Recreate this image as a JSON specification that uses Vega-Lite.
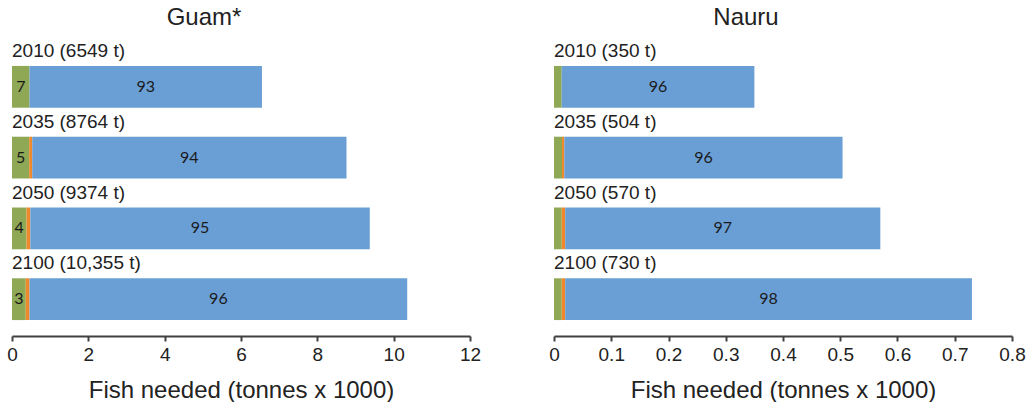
{
  "$schema": "https://vega.github.io/schema/vega-lite/v6.json",
  "background": "white",
  "padding": {"left": 6, "top": 5, "right": 0, "bottom": 0},
  "spacing": 67,
  "datasets": {
    "guam": [
      {"year": "2010", "segment": "Coastal fisheries", "value": 0.46, "label": "7"},
      {"year": "2010", "segment": "Freshwater fisheries", "value": 0.0, "label": ""},
      {"year": "2010", "segment": "Tuna & other", "value": 6.089, "label": "93"},
      {"year": "2035", "segment": "Coastal fisheries", "value": 0.45, "label": "5"},
      {"year": "2035", "segment": "Freshwater fisheries", "value": 0.08, "label": ""},
      {"year": "2035", "segment": "Tuna & other", "value": 8.234, "label": "94"},
      {"year": "2050", "segment": "Coastal fisheries", "value": 0.38, "label": "4"},
      {"year": "2050", "segment": "Freshwater fisheries", "value": 0.1, "label": ""},
      {"year": "2050", "segment": "Tuna & other", "value": 8.894, "label": "95"},
      {"year": "2100", "segment": "Coastal fisheries", "value": 0.36, "label": "3"},
      {"year": "2100", "segment": "Freshwater fisheries", "value": 0.1, "label": ""},
      {"year": "2100", "segment": "Tuna & other", "value": 9.895, "label": "96"}
    ],
    "guamYears": [
      {"year": "2010", "caption": "2010 (6549 t)"},
      {"year": "2035", "caption": "2035 (8764 t)"},
      {"year": "2050", "caption": "2050 (9374 t)"},
      {"year": "2100", "caption": "2100 (10,355 t)"}
    ],
    "nauru": [
      {"year": "2010", "segment": "Coastal fisheries", "value": 0.0135, "label": ""},
      {"year": "2010", "segment": "Freshwater fisheries", "value": 0.0, "label": ""},
      {"year": "2010", "segment": "Tuna & other", "value": 0.3365, "label": "96"},
      {"year": "2035", "segment": "Coastal fisheries", "value": 0.014, "label": ""},
      {"year": "2035", "segment": "Freshwater fisheries", "value": 0.004, "label": ""},
      {"year": "2035", "segment": "Tuna & other", "value": 0.486, "label": "96"},
      {"year": "2050", "segment": "Coastal fisheries", "value": 0.0135, "label": ""},
      {"year": "2050", "segment": "Freshwater fisheries", "value": 0.006, "label": ""},
      {"year": "2050", "segment": "Tuna & other", "value": 0.5505, "label": "97"},
      {"year": "2100", "segment": "Coastal fisheries", "value": 0.0135, "label": ""},
      {"year": "2100", "segment": "Freshwater fisheries", "value": 0.006, "label": ""},
      {"year": "2100", "segment": "Tuna & other", "value": 0.7105, "label": "98"}
    ],
    "nauruYears": [
      {"year": "2010", "caption": "2010 (350 t)"},
      {"year": "2035", "caption": "2035 (504 t)"},
      {"year": "2050", "caption": "2050 (570 t)"},
      {"year": "2100", "caption": "2100 (730 t)"}
    ]
  },
  "hconcat": [
    {
      "title": {"text": "Guam*", "dx": -37},
      "width": 458,
      "height": 286,
      "layer": [
        {
          "data": {"name": "guam"},
          "transform": [{"stack": "value", "groupby": ["year"], "as": ["v0", "v1"], "sort": [{"field": "segment", "order": "ascending"}]}],
          "mark": {"type": "bar"},
          "encoding": {
            "y": {"field": "year", "type": "nominal", "sort": ["2010", "2035", "2050", "2100"], "axis": null,
                  "scale": {"paddingInner": 0.41, "paddingOuter": 0.225}},
            "x": {"field": "v0", "type": "quantitative", "scale": {"domain": [0, 12], "nice": false},
                  "axis": {"values": [0, 2, 4, 6, 8, 10, 12], "title": "Fish needed (tonnes x 1000)", "format": "~g"}},
            "x2": {"field": "v1"},
            "color": {"field": "segment", "type": "nominal", "legend": null,
                      "scale": {"domain": ["Coastal fisheries", "Freshwater fisheries", "Tuna & other"], "range": ["#8ea856", "#ee8a2c", "#6a9fd6"]}}
          }
        },
        {
          "data": {"name": "guam"},
          "transform": [
            {"stack": "value", "groupby": ["year"], "as": ["v0", "v1"], "sort": [{"field": "segment", "order": "ascending"}]},
            {"fold": ["v0", "v1"], "as": ["edge", "pos"]},
            {"aggregate": [{"op": "mean", "field": "pos", "as": "mid"}], "groupby": ["year", "segment", "label"]}
          ],
          "mark": {"type": "text", "font": "Lato", "fontSize": 16, "color": "#1a1a1a"},
          "encoding": {
            "y": {"field": "year", "type": "nominal", "sort": ["2010", "2035", "2050", "2100"]},
            "x": {"field": "mid", "type": "quantitative"},
            "text": {"field": "label"}
          }
        },
        {
          "data": {"name": "guamYears"},
          "mark": {"type": "text", "align": "left", "baseline": "bottom", "dy": -5, "fontSize": 19, "font": "Liberation Sans", "color": "#222"},
          "encoding": {
            "y": {"field": "year", "type": "nominal", "sort": ["2010", "2035", "2050", "2100"], "bandPosition": 0},
            "x": {"datum": 0, "type": "quantitative"},
            "text": {"field": "caption"}
          }
        }
      ]
    },
    {
      "title": {"text": "Nauru", "dx": -37},
      "width": 458,
      "height": 286,
      "layer": [
        {
          "data": {"name": "nauru"},
          "transform": [{"stack": "value", "groupby": ["year"], "as": ["v0", "v1"], "sort": [{"field": "segment", "order": "ascending"}]}],
          "mark": {"type": "bar"},
          "encoding": {
            "y": {"field": "year", "type": "nominal", "sort": ["2010", "2035", "2050", "2100"], "axis": null,
                  "scale": {"paddingInner": 0.41, "paddingOuter": 0.225}},
            "x": {"field": "v0", "type": "quantitative", "scale": {"domain": [0, 0.8], "nice": false},
                  "axis": {"values": [0, 0.1, 0.2, 0.3, 0.4, 0.5, 0.6, 0.7, 0.8], "title": "Fish needed (tonnes x 1000)", "format": "~g"}},
            "x2": {"field": "v1"},
            "color": {"field": "segment", "type": "nominal", "legend": null,
                      "scale": {"domain": ["Coastal fisheries", "Freshwater fisheries", "Tuna & other"], "range": ["#8ea856", "#ee8a2c", "#6a9fd6"]}}
          }
        },
        {
          "data": {"name": "nauru"},
          "transform": [
            {"stack": "value", "groupby": ["year"], "as": ["v0", "v1"], "sort": [{"field": "segment", "order": "ascending"}]},
            {"fold": ["v0", "v1"], "as": ["edge", "pos"]},
            {"aggregate": [{"op": "mean", "field": "pos", "as": "mid"}], "groupby": ["year", "segment", "label"]}
          ],
          "mark": {"type": "text", "font": "Lato", "fontSize": 16, "color": "#1a1a1a"},
          "encoding": {
            "y": {"field": "year", "type": "nominal", "sort": ["2010", "2035", "2050", "2100"]},
            "x": {"field": "mid", "type": "quantitative"},
            "text": {"field": "label"}
          }
        },
        {
          "data": {"name": "nauruYears"},
          "mark": {"type": "text", "align": "left", "baseline": "bottom", "dy": -5, "fontSize": 19, "font": "Liberation Sans", "color": "#222"},
          "encoding": {
            "y": {"field": "year", "type": "nominal", "sort": ["2010", "2035", "2050", "2100"], "bandPosition": 0},
            "x": {"datum": 0, "type": "quantitative"},
            "text": {"field": "caption"}
          }
        }
      ]
    }
  ],
  "resolve": {"scale": {"color": "shared"}},
  "config": {
    "view": {"stroke": null},
    "font": "Liberation Sans",
    "title": {"fontSize": 24, "fontWeight": "normal", "color": "#222", "font": "Liberation Sans", "offset": 12},
    "axis": {
      "domainColor": "#404040", "domainWidth": 2, "tickColor": "#404040", "tickWidth": 2, "tickSize": 5,
      "grid": false, "labelFlush": false, "labelFont": "Liberation Sans", "labelFontSize": 19, "labelColor": "#222", "labelPadding": 4,
      "titleFont": "Liberation Sans", "titleFontSize": 24, "titleFontWeight": "normal", "titleColor": "#222", "titlePadding": 14
    }
  }
}
